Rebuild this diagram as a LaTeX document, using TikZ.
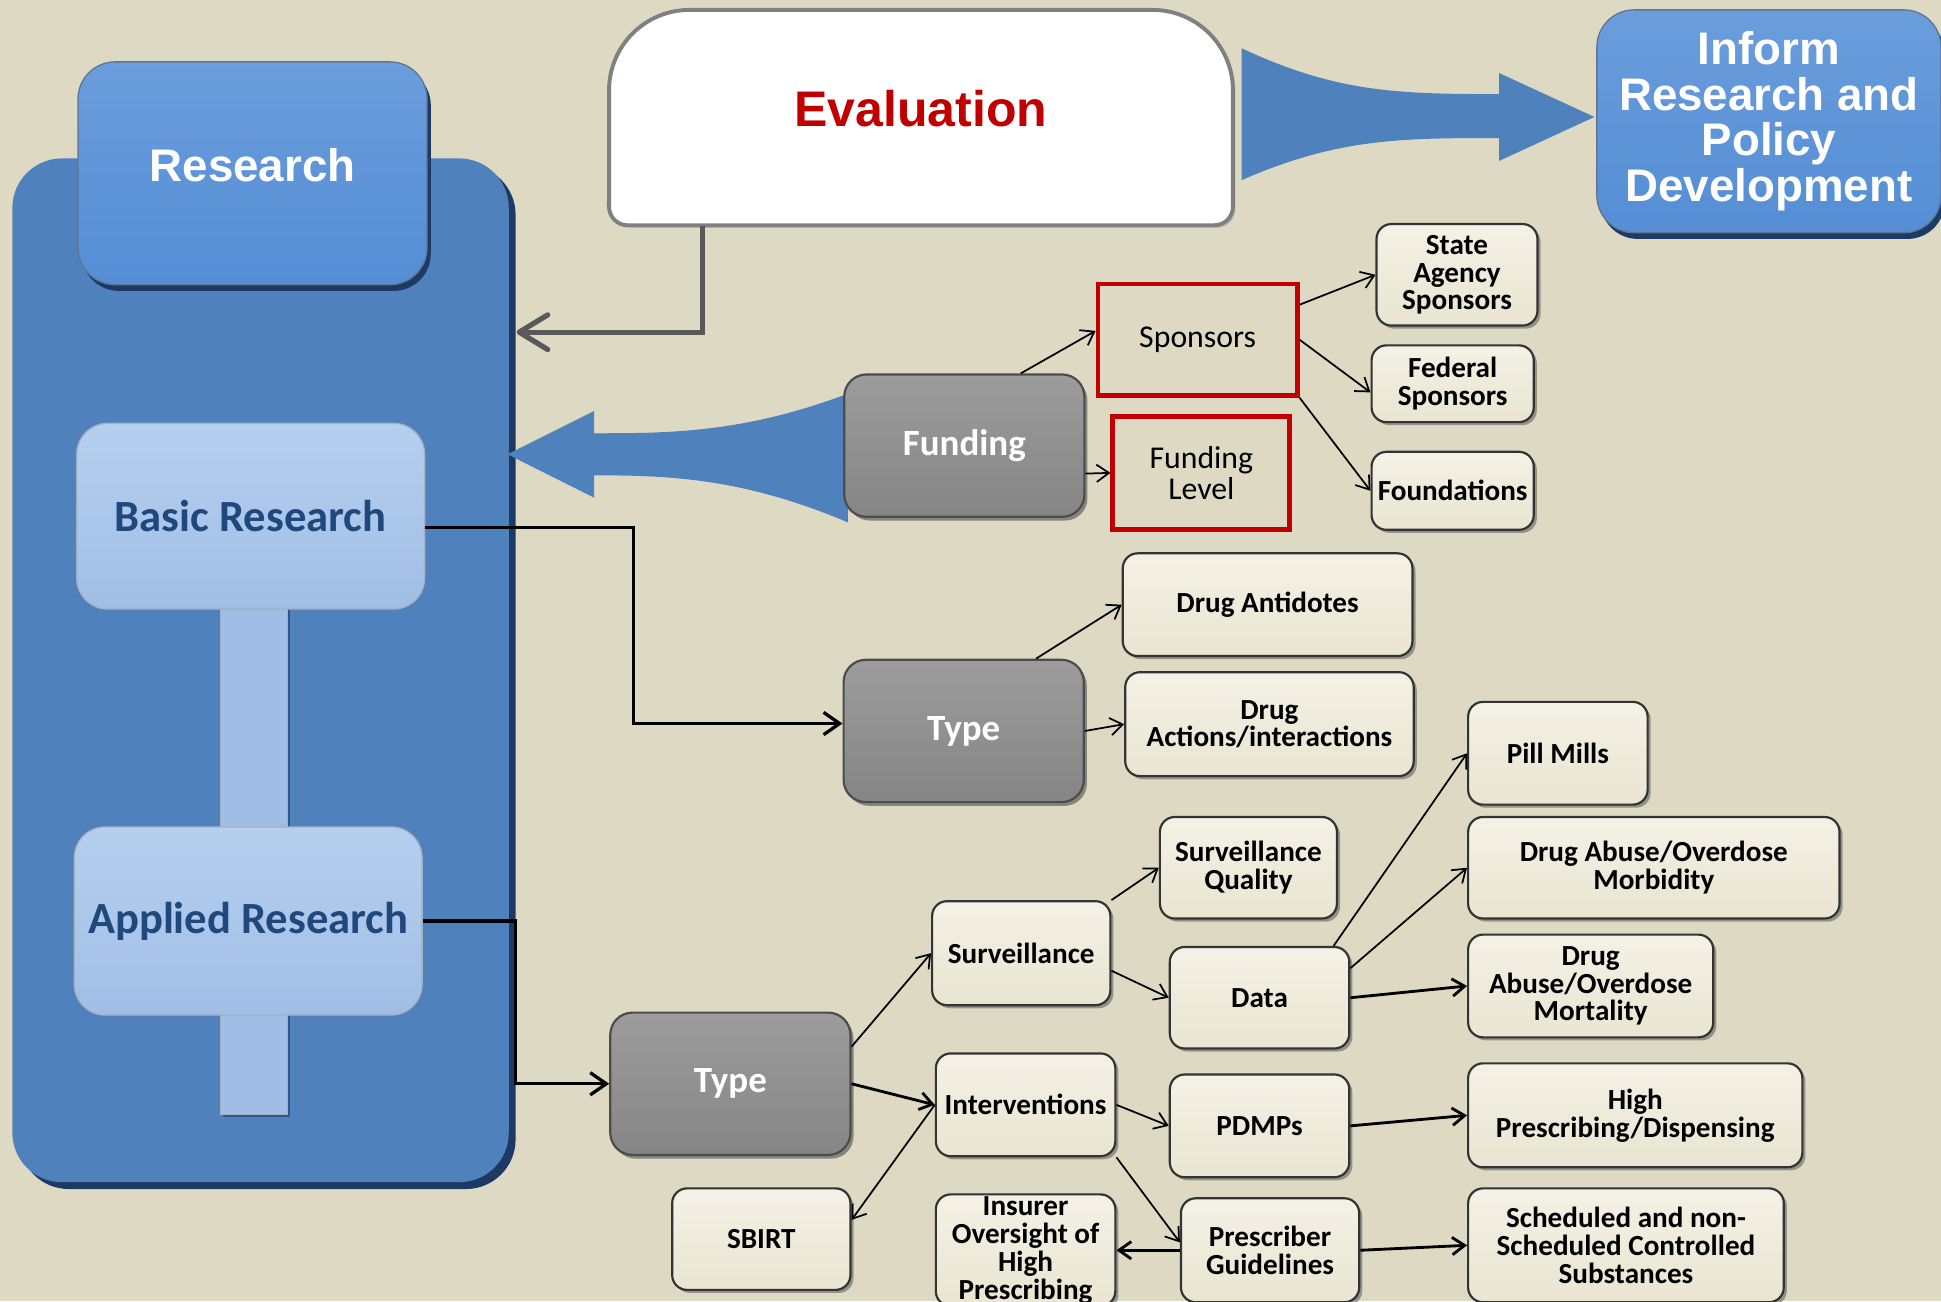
\documentclass[tikz,border=0pt]{standalone}
\usepackage{fontspec}
\setmainfont{Carlito}
\newfontfamily\headfont{Liberation Sans}
\usetikzlibrary{arrows.meta,shadows}

\definecolor{paper}{HTML}{DED9C3}
\definecolor{panelblue}{HTML}{4F81BD}
\definecolor{paneldark}{HTML}{1C3A64}
\definecolor{boxblue}{HTML}{558ED5}
\definecolor{boxbluetop}{HTML}{6A9DDC}
\definecolor{lightblue}{HTML}{A0BEE5}
\definecolor{lightbluetop}{HTML}{B6CFEF}
\definecolor{navytext}{HTML}{1F497D}
\definecolor{boxgray}{HTML}{858585}
\definecolor{boxgraytop}{HTML}{9C9C9C}
\definecolor{cream}{HTML}{E9E5D1}
\definecolor{creamtop}{HTML}{F4F1E6}
\definecolor{evalred}{HTML}{C00000}
\definecolor{linegray}{HTML}{595959}

\tikzstyle{panel}=[fill=panelblue,rounded corners=8mm,drop shadow={shadow xshift=1.1mm,shadow yshift=-1.1mm,fill=paneldark,opacity=1}]
\tikzstyle{stub}=[fill=lightblue,draw=paneldark!40,line width=0.5pt,drop shadow={shadow xshift=0.5mm,shadow yshift=-0.5mm,fill=paneldark,opacity=.6}]
\tikzstyle{blue box}=[rounded corners=6mm,draw=paneldark!70,line width=0.6pt,top color=boxbluetop,bottom color=boxblue,drop shadow={shadow xshift=0.6mm,shadow yshift=-1mm,fill=paneldark,opacity=1},text=white,align=center,font=\headfont\bfseries\fontsize{21}{21}\selectfont]
\tikzstyle{light box}=[rounded corners=5mm,draw=paneldark!40,line width=0.6pt,top color=lightbluetop,bottom color=lightblue,text=navytext,font=\bfseries\fontsize{20.5}{24}\selectfont,minimum width=56.2mm]
\tikzstyle{gray box}=[rounded corners=3.6mm,draw=black!70,line width=1pt,top color=boxgraytop,bottom color=boxgray,drop shadow={shadow xshift=0.5mm,shadow yshift=-0.6mm,fill=black!70,opacity=.6},text=white,font=\bfseries\fontsize{17}{20}\selectfont,minimum width=38.8mm,minimum height=23mm]
\tikzstyle{cream box}=[rounded corners=2.4mm,draw=black!80,line width=1pt,top color=creamtop,bottom color=cream,drop shadow={shadow xshift=0.5mm,shadow yshift=-0.5mm,fill=black!70,opacity=.5},align=center,inner sep=1pt,font=\bfseries\fontsize{13.4}{12.8}\selectfont]
\tikzstyle{red box}=[draw=evalred,line width=2.2pt,align=center,inner sep=0pt,font=\fontsize{14.6}{14.2}\selectfont]
\tikzstyle{eval frame}=[fill=white,draw=black!50,line width=1.8pt,drop shadow={shadow xshift=0.4mm,shadow yshift=-0.4mm,fill=black!40,opacity=.5}]
\tikzstyle{edge}=[draw,line width=0.8pt,-{Straight Barb[length=2mm,width=2.8mm]}]
\tikzstyle{heavy edge}=[edge,line width=1.3pt]
\tikzstyle{elbow}=[draw,line width=1.5pt,-{Straight Barb[length=2.6mm,width=3.6mm]}]
\tikzstyle{eval arrow}=[draw=linegray,line width=2.4pt,-{Straight Barb[length=4.6mm,width=5.6mm,round]}]

\begin{document}
\begin{tikzpicture}[x=0.2mm,y=0.2mm]
    \useasboundingbox (0,0) rectangle (1568,-1051);
    \fill[paper] (0,0) rectangle (1568,-1051);

    % research column
    \node[panel,minimum width=80.2mm,minimum height=165.4mm] (panel) at (210.5,-541.5) {};
    \path[stub] (178,-480) rectangle (232,-680);
    \path[stub] (178,-800) rectangle (232,-900);
    \node[blue box,minimum width=56.4mm,minimum height=36mm] (research) at (204,-140) {\raisebox{2.8mm}{Research}};
    \node[light box,minimum height=30mm] (basic) at (202.5,-417) {Basic Research};
    \node[light box,minimum height=30.4mm] (applied) at (200.5,-744) {Applied Research};

    % evaluation and the two wide arrows
    \draw[eval frame] (492,-167) -- (492,-73) arc[start angle=180,end angle=90,radius=13mm]
        -- (931,-8) arc[start angle=90,end angle=0,radius=13mm]
        -- (996,-167) arc[start angle=0,end angle=-90,radius=3mm]
        -- (507,-182) arc[start angle=270,end angle=180,radius=3mm] -- cycle;
    \node[minimum width=100.8mm,minimum height=37.6mm,text=evalred,font=\headfont\bfseries\fontsize{23}{26}\selectfont] (eval) at (744,-88) {Evaluation};
    \fill[panelblue] (1003,-39) .. controls (1080,-75) and (1130,-76) .. (1211,-76) -- (1211,-59) -- (1288,-94.5)
        -- (1211,-130) -- (1211,-111.5) .. controls (1130,-111.5) and (1080,-112) .. (1003,-145.5) -- cycle;
    \node[blue box,minimum width=55.6mm,minimum height=36mm] (inform) at (1429,-98) {Inform\\Research and\\Policy\\Development};
    \fill[panelblue] (685,-318) .. controls (600,-350) and (540,-350) .. (480,-350) -- (480,-332) -- (410,-367)
        -- (480,-402) -- (480,-384) .. controls (540,-384) and (600,-386) .. (685,-422) -- cycle;
    \path[eval arrow] ([xshift=15.2mm]eval.south west) -- ++(0,-86) coordinate (evalbend) -- ([xshift=1.2mm]panel.east |- evalbend);

    \foreach \pos/\name/\txt in {{(779,-360)/fund/Funding}, {(778.5,-590.5)/type1/Type}, {(590,-875.5)/type2/Type}}
    \node[gray box] (\name) at \pos {\txt};

    \node[red box,minimum width=32.2mm,minimum height=18mm] (spons) at (967.5,-274.5) {Sponsors};
    \node[red box,minimum width=28.6mm,minimum height=18.2mm] (flevel) at (970.5,-382) {Funding\\Level};

    \foreach \pos/\bw/\bh/\name/\txt in {
        {(1177,-222)/26/16.4/statesp/{State\\Agency\\Sponsors}},
        {(1173.5,-310)/26.2/12.4/fedsp/{Federal\\Sponsors}},
        {(1173.5,-396.5)/26.2/12.6/found/Foundations},
        {(1024,-488.5)/46.8/16.6/antid/{Drug Antidotes}},
        {(1025.5,-585)/46.6/16.8/action/{Drug\\Actions/interactions}},
        {(1258.5,-608.5)/29/16.6/pill/{Pill Mills}},
        {(1008.5,-701)/28.6/16.4/squal/{Surveillance\\Quality}},
        {(1336,-701)/60/16.4/morb/{Drug Abuse/Overdose\\Morbidity}},
        {(825,-770)/28.8/16.8/surv/Surveillance},
        {(1017.5,-806)/29/16.4/data/Data},
        {(1285,-796.5)/39.6/16.6/mort/{Drug\\Abuse/Overdose\\Mortality}},
        {(828.5,-892.5)/29/16.6/interv/Interventions},
        {(1017.5,-909.5)/29/16.6/pdmp/PDMPs},
        {(1321,-901)/54/16.8/highp/{High\\Prescribing/Dispensing}},
        {(615,-1001)/28.8/16.4/sbirt/SBIRT},
        {(828.5,-1010)/29/16.8/insur/{Insurer\\Oversight of\\High\\Prescribing}},
        {(1026,-1010)/28.8/16.8/presc/{Prescriber\\Guidelines}},
        {(1313.5,-1006)/51/18.4/sched/{Scheduled and non-\\Scheduled Controlled\\Substances}}}
    \node[cream box,minimum width=\bw*1mm,minimum height=\bh*1mm] (\name) at \pos {\txt};

    % connectors
    \path[elbow] ([yshift=-1.8mm]basic.east) -- ++(168,0) |- ([yshift=1.2mm]type1.west);
    \path[elbow] (applied.east) -- ++(75,0) |- (type2.west);

    \foreach \source/\dest in {fund.52/spons.175, fund.-13/flevel.west, spons.19/statesp.west,
        spons.east/fedsp.186, spons.south east/found.west, type1.45/antid.west, type1.east/action.west,
        type2.17/surv.west, interv.west/sbirt.12, surv.north east/squal.west, surv.-11/data.west,
        data.35/pill.west, data.18/morb.west, interv.south east/presc.175, interv.east/pdmp.west}
    \path[edge] (\source) -- (\dest);

    \foreach \source/\dest in {type2.east/interv.west, data.east/mort.west, pdmp.east/highp.west,
        presc.east/sched.west, presc.west/insur.east}
    \path[heavy edge] (\source) -- (\dest);

\end{tikzpicture}
\end{document}
